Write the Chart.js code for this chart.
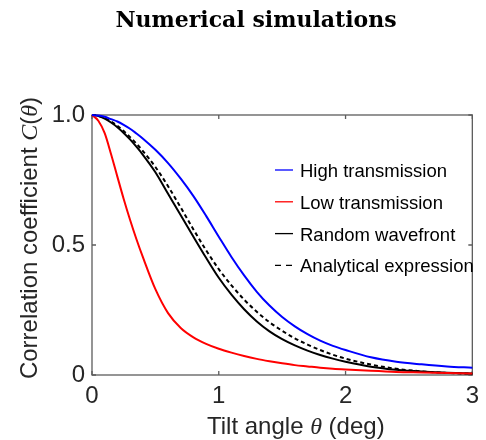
<!DOCTYPE html>
<html>
<head>
<meta charset="utf-8">
<script src="https://cdn.jsdelivr.net/npm/chart.js@4.4.1/dist/chart.umd.min.js"></script>
<style>
  html, body { margin: 0; padding: 0; background: #fff; }
</style>
</head>
<body>
<canvas id="myChart" width="486" height="440"></canvas>
<script>
// Data (tilt angle in deg)
const theta = [0, 0.05, 0.1, 0.15, 0.2, 0.25, 0.3, 0.35, 0.4, 0.5, 0.6, 0.7, 0.8, 0.9, 1.0,
  1.1, 1.2, 1.3, 1.4, 1.5, 1.6, 1.7, 1.8, 1.9, 2.0, 2.2, 2.4, 2.6, 2.8, 3.0];

const highTransmission = [1, 0.998, 0.993, 0.984, 0.975, 0.962, 0.947, 0.929, 0.91, 0.866, 0.815, 0.755, 0.688, 0.612, 0.532,
  0.454, 0.383, 0.32, 0.267, 0.223, 0.187, 0.157, 0.132, 0.112, 0.096, 0.068, 0.051, 0.041, 0.033, 0.028];

const lowTransmission = [1, 0.978, 0.93, 0.85, 0.763, 0.677, 0.597, 0.523, 0.455, 0.33, 0.238, 0.181, 0.145, 0.12, 0.101,
  0.086, 0.073, 0.062, 0.053, 0.045, 0.038, 0.033, 0.028, 0.024, 0.021, 0.016, 0.012, 0.01, 0.008, 0.006];

const randomWavefront = [1, 0.996, 0.986, 0.971, 0.953, 0.931, 0.906, 0.878, 0.848, 0.78, 0.697, 0.614, 0.532, 0.451, 0.374,
  0.309, 0.253, 0.206, 0.168, 0.138, 0.114, 0.094, 0.077, 0.063, 0.051, 0.032, 0.02, 0.013, 0.009, 0.006];

const analyticalExpression = [1, 0.997, 0.988, 0.975, 0.958, 0.938, 0.915, 0.89, 0.862, 0.80, 0.726, 0.644, 0.56, 0.48, 0.407,
  0.345, 0.29, 0.243, 0.203, 0.17, 0.141, 0.117, 0.096, 0.078, 0.063, 0.04, 0.024, 0.014, 0.008, 0.005];

const seriesNames = ['High transmission', 'Low transmission', 'Random wavefront', 'Analytical expression'];
const xTickValues = [0, 1, 2, 3];
const yTickValues = [0, 0.5, 1];
const yTickLabels = ['0', '0.5', '1.0'];

const toPoints = vals => vals.map((v, i) => ({ x: theta[i], y: v }));

const sans = "'Liberation Sans', Arial, sans-serif";
Chart.defaults.font.family = sans;
Chart.defaults.color = '#262626';

// Rahmen mit Ticks nach innen (wie MATLAB "box on")
const framePlugin = {
  id: 'frame',
  beforeDatasetsDraw(chart) {
    const { ctx, chartArea: a, scales: { x, y } } = chart;
    ctx.save();
    ctx.strokeStyle = '#5c5c5c';
    ctx.lineWidth = 1.3;
    ctx.strokeRect(a.left, a.top, a.right - a.left, a.bottom - a.top);
    ctx.beginPath();
    x.ticks.forEach(t => {
      const px = x.getPixelForValue(t.value);
      ctx.moveTo(px, a.bottom); ctx.lineTo(px, a.bottom - 4);
      ctx.moveTo(px, a.top); ctx.lineTo(px, a.top + 4);
    });
    y.ticks.forEach(t => {
      const py = y.getPixelForValue(t.value);
      ctx.moveTo(a.left, py); ctx.lineTo(a.left + 4, py);
      ctx.moveTo(a.right, py); ctx.lineTo(a.right - 4, py);
    });
    ctx.stroke();
    ctx.restore();
  }
};

// Text aus Stücken (aufrecht / kursiv) hintereinander schreiben
function drawPieces(ctx, pieces, x, y) {
  let cx = x;
  pieces.forEach(([txt, font]) => {
    ctx.font = font;
    ctx.fillText(txt, cx, y);
    cx += ctx.measureText(txt).width;
  });
}
function piecesWidth(ctx, pieces) {
  let w = 0;
  pieces.forEach(([txt, font]) => { ctx.font = font; w += ctx.measureText(txt).width; });
  return w;
}

// Titel und Achsenbeschriftungen
const textPlugin = {
  id: 'texts',
  afterDraw(chart) {
    const ctx = chart.ctx;
    const a = chart.chartArea;
    const up = '24px ' + sans;
    const it = "italic 24px 'Liberation Serif', serif";
    ctx.save();
    ctx.fillStyle = '#000';
    ctx.font = "bold 22px 'DejaVu Serif', serif";
    ctx.textAlign = 'center';
    ctx.textBaseline = 'alphabetic';
    ctx.fillText('Numerical simulations', 256, 27);

    ctx.fillStyle = '#262626';
    ctx.textAlign = 'left';
    const xt = [['Tilt angle ', up], ['θ', it], [' (deg)', up]];
    drawPieces(ctx, xt, 207, 434);

    const yt = [['Correlation coefficient ', up], ['C', it], ['(', up], ['θ', it], [')', up]];
    const w = piecesWidth(ctx, yt);
    ctx.translate(37, (a.top + a.bottom) / 2 - 7);
    ctx.rotate(-Math.PI / 2);
    drawPieces(ctx, yt, -w / 2, 0);
    ctx.restore();
  }
};

// Legende innerhalb der Achsen, ohne Rahmen
const legendPlugin = {
  id: 'innerLegend',
  afterDatasetsDraw(chart) {
    const ctx = chart.ctx;
    ctx.save();
    ctx.font = '18.5px ' + sans;
    ctx.textBaseline = 'middle';
    ctx.textAlign = 'left';
    chart.data.datasets.forEach((ds, i) => {
      const yy = 170 + i * 31.8;
      ctx.strokeStyle = ds.borderColor;
      ctx.lineWidth = 1.3;
      ctx.setLineDash(ds.borderDash ? [6, 5] : []);
      ctx.beginPath();
      ctx.moveTo(275, yy);
      ctx.lineTo(293, yy);
      ctx.stroke();
      ctx.fillStyle = '#000';
      ctx.fillText(ds.label, 300, yy + 2);
    });
    ctx.restore();
  }
};

const data = {
  datasets: [
    { label: seriesNames[0], data: toPoints(highTransmission), borderColor: '#0000ff' },
    { label: seriesNames[1], data: toPoints(lowTransmission), borderColor: '#ff0000' },
    { label: seriesNames[2], data: toPoints(randomWavefront), borderColor: '#000000' },
    { label: seriesNames[3], data: toPoints(analyticalExpression), borderColor: '#000000', borderDash: [4, 3] }
  ].map(ds => Object.assign({
    borderWidth: 2,
    pointRadius: 0,
    fill: false,
    cubicInterpolationMode: 'monotone',
    clip: 4
  }, ds))
};

const config = {
  type: 'line',
  data: data,
  options: {
    responsive: false,
    animation: false,
    layout: { padding: { top: 115, right: 8, left: 0, bottom: 0 } },
    plugins: { legend: { display: false }, tooltip: { enabled: false } },
    scales: {
      x: {
        type: 'linear',
        min: 0, max: 3,
        afterFit(scale) { scale.height = 65; },
        afterBuildTicks(scale) { scale.ticks = xTickValues.map(v => ({ value: v })); },
        grid: { display: false, drawTicks: false },
        border: { display: false },
        ticks: { font: { size: 24 }, padding: 7, maxRotation: 0, callback: v => String(v) }
      },
      y: {
        min: 0, max: 1,
        afterFit(scale) { scale.width = 92; },
        afterBuildTicks(scale) { scale.ticks = yTickValues.map(v => ({ value: v })); },
        grid: { display: false, drawTicks: false },
        border: { display: false },
        ticks: { font: { size: 24 }, padding: 7, callback: v => yTickLabels[yTickValues.indexOf(v)] }
      }
    }
  },
  plugins: [framePlugin, legendPlugin, textPlugin]
};

const myChart = new Chart(document.getElementById('myChart'), config);
</script>
</body>
</html>
